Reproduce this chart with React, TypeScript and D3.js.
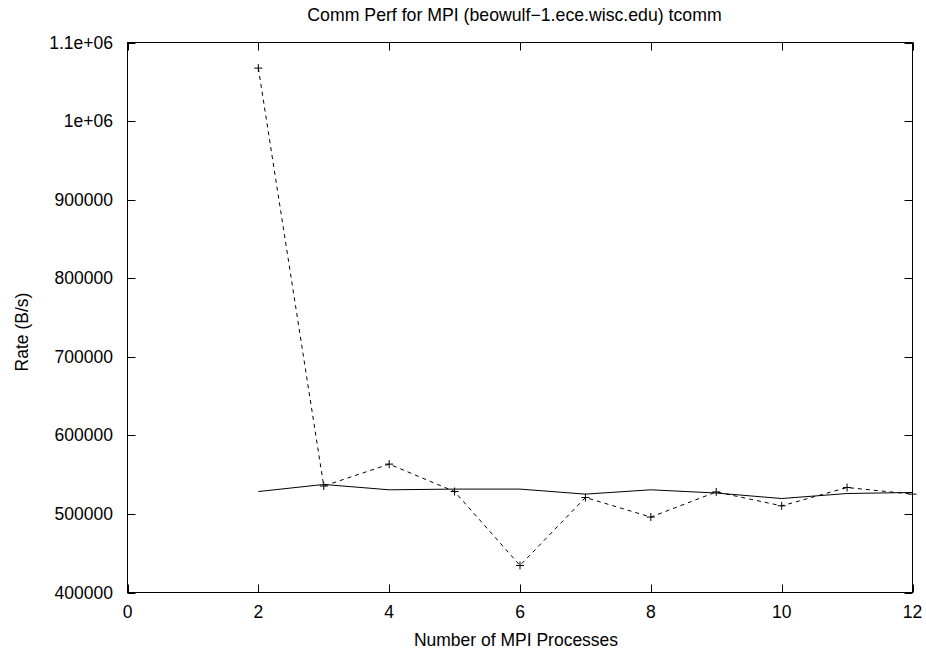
import React, { useRef, useEffect } from 'react';
import * as d3 from 'd3';

// values
const procs = [2, 3, 4, 5, 6, 7, 8, 9, 10, 11, 12];
const rateSolid = [528500, 537500, 530700, 531600, 531600, 525200, 530700, 526600, 519600, 526000, 527300];
const ratePoints = [1067400, 535500, 563400, 528500, 434400, 520900, 496000, 528000, 510300, 533600, 525200];
const xTicks = [0, 2, 4, 6, 8, 10, 12];
const yTicks = [400000, 500000, 600000, 700000, 800000, 900000, 1000000, 1100000];
const yTickLabels = ['400000', '500000', '600000', '700000', '800000', '900000', '1e+06', '1.1e+06'];

const W = 926;
const H = 654;
const font = '"Liberation Sans", Arial, sans-serif';
const fs = 17.5;

const App: React.FC = () => {
  const svgRef = useRef<SVGSVGElement | null>(null);

  useEffect(() => {
    const svg = d3.select(svgRef.current);
    svg.selectAll('*').remove();

    const left = 127.5, right = 912.5, top = 42.5, bottom = 592.5;

    const x = d3.scaleLinear().domain([0, 12]).range([left, right]);
    const y = d3.scaleLinear().domain([400000, 1100000]).range([bottom, top]);

    svg.append('rect').attr('width', W).attr('height', H).attr('fill', '#fff');

    // ticks, mirrored on all four sides, pointing inward
    const tickLen = 8;
    const g = svg.append('g').attr('stroke', '#000').attr('stroke-width', 1);
    yTicks.forEach(v => {
      const yy = Math.round(y(v)) + 0.5;
      g.append('line').attr('x1', left).attr('x2', left + tickLen).attr('y1', yy).attr('y2', yy);
      g.append('line').attr('x1', right).attr('x2', right - tickLen).attr('y1', yy).attr('y2', yy);
    });
    xTicks.forEach(v => {
      const xx = Math.round(x(v)) + 0.5;
      g.append('line').attr('x1', xx).attr('x2', xx).attr('y1', bottom).attr('y2', bottom - tickLen);
      g.append('line').attr('x1', xx).attr('x2', xx).attr('y1', top).attr('y2', top + tickLen);
    });

    // tick labels
    svg.selectAll('.ylab')
      .data(yTicks)
      .enter()
      .append('text')
      .attr('x', 113)
      .attr('y', d => y(d) + 6)
      .attr('text-anchor', 'end')
      .attr('font-family', font)
      .attr('font-size', fs)
      .text((_, i) => yTickLabels[i]);

    svg.selectAll('.xlab')
      .data(xTicks)
      .enter()
      .append('text')
      .attr('x', d => x(d))
      .attr('y', 618)
      .attr('text-anchor', 'middle')
      .attr('font-family', font)
      .attr('font-size', fs)
      .text(d => d.toString());

    // titles
    svg.append('text')
      .attr('x', 514.5)
      .attr('y', 20.5)
      .attr('text-anchor', 'middle')
      .attr('font-family', font)
      .attr('font-size', 17.7)
      .text('Comm Perf for MPI (beowulf\u22121.ece.wisc.edu) tcomm');

    svg.append('text')
      .attr('x', 516)
      .attr('y', 646)
      .attr('text-anchor', 'middle')
      .attr('font-family', font)
      .attr('font-size', fs)
      .text('Number of MPI Processes');

    svg.append('text')
      .attr('transform', 'translate(27.5, 332) rotate(-90)')
      .attr('text-anchor', 'middle')
      .attr('font-family', font)
      .attr('font-size', fs)
      .text('Rate (B/s)');

    const line = d3.line<number>()
      .x((_, i) => x(procs[i]))
      .y(d => y(d));

    // solid line
    svg.append('path')
      .datum(rateSolid)
      .attr('d', line)
      .attr('fill', 'none')
      .attr('stroke', '#000')
      .attr('stroke-width', 1);

    // dashed line with + markers
    svg.append('path')
      .datum(ratePoints)
      .attr('d', line)
      .attr('fill', 'none')
      .attr('stroke', '#000')
      .attr('stroke-width', 1)
      .attr('stroke-dasharray', '4,4');

    const s = 4;
    svg.selectAll('.pt')
      .data(ratePoints)
      .enter()
      .append('path')
      .attr('d', (d, i) => {
        const px = x(procs[i]), py = y(d);
        return `M${px - s},${py}H${px + s}M${px},${py - s}V${py + s}`;
      })
      .attr('stroke', '#000')
      .attr('stroke-width', 1);

    // border
    svg.append('rect')
      .attr('x', left).attr('y', top)
      .attr('width', right - left).attr('height', bottom - top)
      .attr('fill', 'none')
      .attr('stroke', '#000')
      .attr('stroke-width', 1);
  }, []);

  return (
    <svg ref={svgRef} width={W} height={H} style={{ position: 'absolute', left: 0, top: 0 }}></svg>
  );
};

export default App;
